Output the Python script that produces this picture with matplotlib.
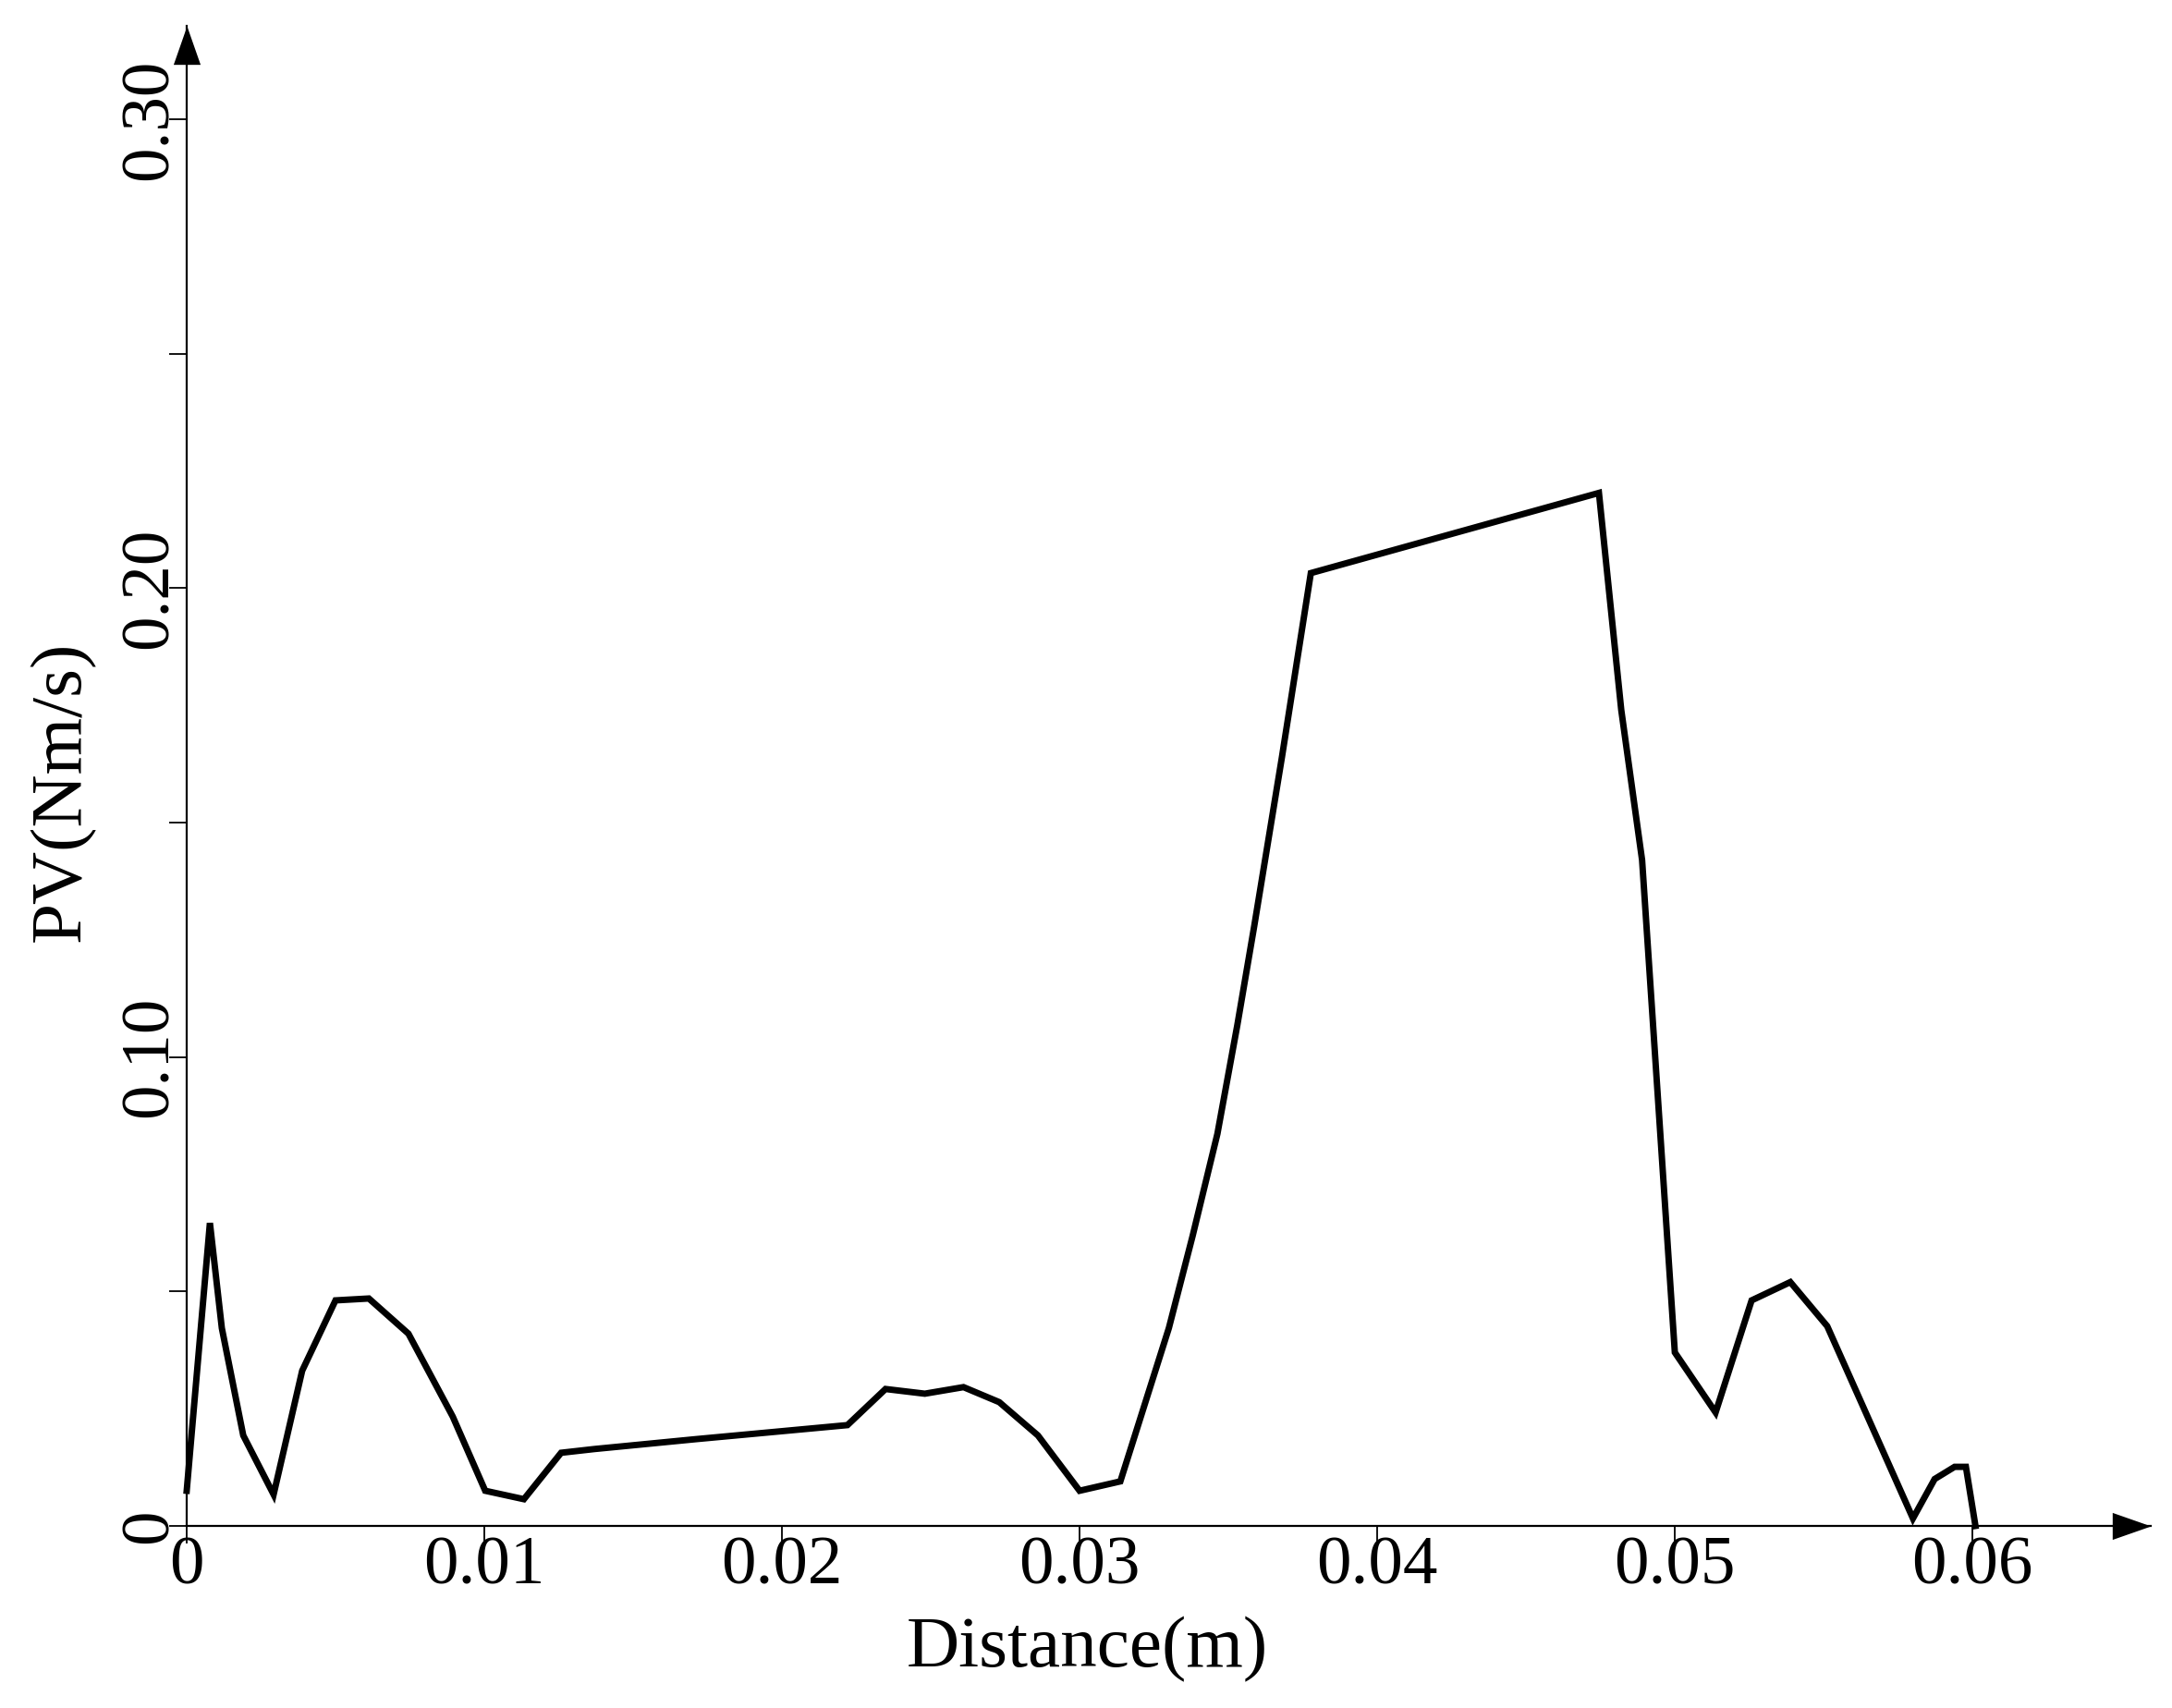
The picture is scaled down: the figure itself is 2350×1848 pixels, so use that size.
import matplotlib
matplotlib.use("Agg")
import matplotlib.pyplot as plt
from matplotlib.ticker import FixedLocator, FixedFormatter

# distance (m) and PV (Nm/s)
distance = [0.0, 0.00078, 0.00118, 0.0019, 0.00292, 0.00388, 0.0050, 0.00612,
            0.00745, 0.00894, 0.01003, 0.01133, 0.01258, 0.0137, 0.0171, 0.0222,
            0.02348, 0.0248, 0.0261, 0.0273, 0.0286, 0.0300, 0.03137, 0.0330,
            0.0338, 0.03463, 0.0353, 0.03587, 0.0368, 0.03777, 0.04745, 0.0482,
            0.0489, 0.0500, 0.05137, 0.05258, 0.05388, 0.05512, 0.0580,
            0.05873, 0.0594, 0.05978, 0.0601]
pv = [0.0075, 0.0646, 0.0422, 0.0193, 0.0067, 0.0331, 0.0481, 0.0485,
      0.0410, 0.0233, 0.0075, 0.0057, 0.0156, 0.0164, 0.0185, 0.0215,
      0.0292, 0.0282, 0.0296, 0.0264, 0.0193, 0.0075, 0.0095, 0.0422,
      0.0619, 0.0836, 0.1068, 0.128, 0.164, 0.2032, 0.2203, 0.174,
      0.142, 0.037, 0.0242, 0.0481, 0.052, 0.0426, 0.0016,
      0.0100, 0.0126, 0.0126, 0.0]

x_ticks = [0, 0.01, 0.02, 0.03, 0.04, 0.05, 0.06]
x_labels = ["0", "0.01", "0.02", "0.03", "0.04", "0.05", "0.06"]
y_ticks = [0, 0.05, 0.10, 0.15, 0.20, 0.25, 0.30]
y_labels = ["0", "", "0.10", "", "0.20", "", "0.30"]

plt.rcParams["font.family"] = ["Liberation Serif", "DejaVu Serif"]

W, H = 2350, 1848
fig = plt.figure(figsize=(W / 100, H / 100), dpi=100)
ax = fig.add_axes([202 / W, (H - 1651) / H, (2327 - 202) / W, (1651 - 28) / H])

ax.plot(distance, pv, color="black", lw=5, clip_on=False, solid_joinstyle="miter")

ax.set_xlim(0, 0.06599)
ax.set_ylim(0, 0.3199)
for s in ("top", "right"):
    ax.spines[s].set_visible(False)
for s in ("bottom", "left"):
    ax.spines[s].set_linewidth(1.6)

ax.xaxis.set_major_locator(FixedLocator(x_ticks))
ax.xaxis.set_major_formatter(FixedFormatter(x_labels))
ax.yaxis.set_major_locator(FixedLocator(y_ticks))
ax.yaxis.set_major_formatter(FixedFormatter(y_labels))
ax.tick_params(axis="both", direction="out", length=14, width=1.3, labelsize=54)
ax.tick_params(axis="x", pad=-6)
ax.tick_params(axis="y", pad=-10)
for t in ax.get_yticklabels():
    t.set_rotation(90)
    t.set_va("center")

# arrow heads on the axes
head_up = [(0, 0), (-0.35, -1), (0.35, -1), (0, 0)]
head_right = [(0, 0), (-1, 0.35), (-1, -0.35), (0, 0)]
ax.plot([0], [1], transform=ax.transAxes, marker=head_up, ms=60, color="black",
        mew=0, clip_on=False)
ax.plot([1], [0], transform=ax.transAxes, marker=head_right, ms=60, color="black",
        mew=0, clip_on=False)

fig.text(1176 / W, 1 - 1803 / H, "Distance(m)", ha="center", va="baseline", fontsize=57)
fig.text(67 / W, 1 - 856 / H, "PV(Nm/s)", ha="center", va="center", rotation=90,
         fontsize=57)

fig.savefig("out.png", dpi=100)
